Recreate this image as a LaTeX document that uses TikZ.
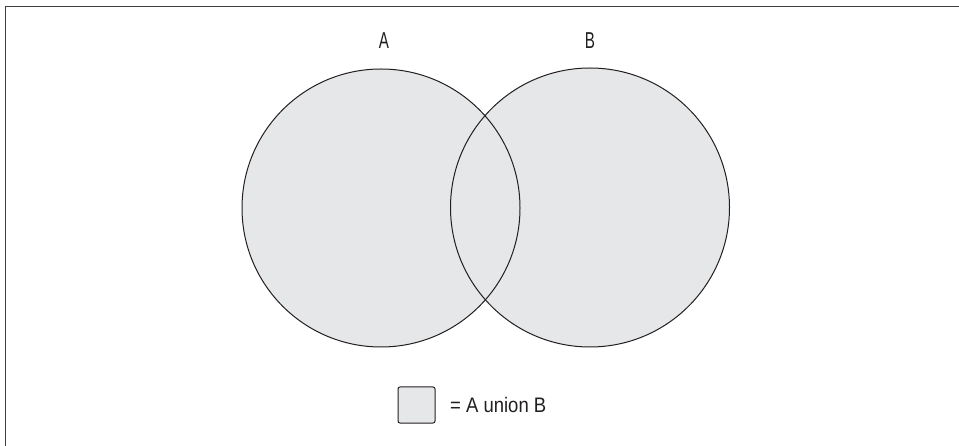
\documentclass[tikz,border=0pt]{standalone}
\usepackage{fontspec}
\setmainfont{Liberation Sans}
\newfontfamily\labfont{Liberation Sans}[FakeStretch=0.66]
\newfontfamily\legfont{Liberation Sans}[FakeStretch=0.88]
\definecolor{vfill}{HTML}{E6E7E8}
\definecolor{vline}{HTML}{231F20}
\definecolor{frame}{HTML}{404040}
\tikzset{
  setcircle/.style={draw=vline, line width=1pt},
  setlabel/.style={anchor=base, inner sep=0pt, text=vline, font=\labfont\fontsize{23}{26}\selectfont},
  legtext/.style={anchor=base west, inner sep=0pt, text=vline, font=\legfont\fontsize{21}{24}\selectfont},
  legbox/.style={draw=vline, fill=vfill, line width=1pt, rounded corners=2pt}
}
\begin{document}
\begin{tikzpicture}[x=1pt,y=-1pt]
\useasboundingbox (0,0) rectangle (959,446);
% frame (only left and top edges fall inside the picture)
\draw[frame, line width=1.5pt] (5.5,446) -- (5.5,6.5) -- (959,6.5);
% circles
\coordinate (cA) at (381,208);
\coordinate (cB) at (590,207.5);
\fill[vfill] (cA) circle[radius=139];
\fill[vfill] (cB) circle[radius=139.5];
\draw[setcircle] (cA) circle[radius=139];
\draw[setcircle] (cB) circle[radius=139.5];
% labels
\node[setlabel] (labA) at (384,49) {A};
\node[setlabel] (labB) at (590,49) {B};
% legend
\draw[legbox] (398,387) rectangle (435,423);
\node[legtext] (leg) at (450,412) {= A union B};
\end{tikzpicture}
\end{document}
